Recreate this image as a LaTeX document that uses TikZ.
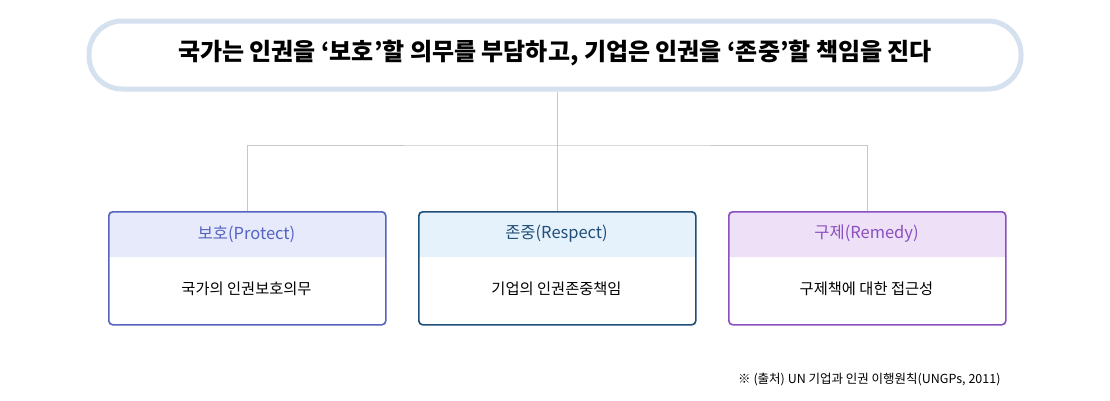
\documentclass[tikz,border=0pt]{standalone}
\usepackage{fontspec}
\setmainfont{Noto Sans CJK KR}
\begin{document}
\begin{tikzpicture}[x=1pt,y=-1pt,
  bx/.style={draw=#1,line width=1.6pt,rounded corners=4pt,minimum width=277pt,minimum height=113pt,anchor=north west,inner sep=0pt},
  ln/.style={draw=black!22,line width=0.7pt}]
\definecolor{c1}{HTML}{5563C1}\definecolor{f1}{HTML}{E7EAFB}
\definecolor{c2}{HTML}{1F4E79}\definecolor{f2}{HTML}{E6F2FB}
\definecolor{c3}{HTML}{8A4FC1}\definecolor{f3}{HTML}{EEE0F6}
\useasboundingbox[fill=white] (0,0) rectangle (1110,400);
\node[draw={rgb,255:red,213;green,225;blue,239},line width=5pt,rounded corners=33pt,minimum width=932pt,minimum height=68pt] (top) at (555,55) {};
\node at (555,53) {\fontsize{24pt}{28pt}\selectfont\bfseries 국가는 인권을 ‘보호’할 의무를 부담하고, 기업은 인권을 ‘존중’할 책임을 진다};
\foreach \i/\x/\h/\b in {1/108/보호(Protect)/국가의 인권보호의무, 2/418/존중(Respect)/기업의 인권존중책임, 3/728/구제(Remedy)/구제책에 대한 접근성}{
  \fill[f\i,rounded corners=4pt] (\x,211) rectangle (\x+277,257);
  \fill[f\i] (\x,240) rectangle (\x+277,257);
  \node[bx=c\i] (b\i) at (\x,211) {};
  \node[text=c\i] at (\x+138.5,234) {\fontsize{16.5pt}{19pt}\selectfont 
\h};
  \node at (\x+138.5,289) {\fontsize{15.3pt}{18pt}\selectfont \b};
}
\coordinate (j) at (557,145);
\draw[ln] (top.south -| j) -- (j);
\draw[ln] (b1.north) |- (j) -| (b3.north);
\draw[ln] (j) -- (b2.north -| j);
\node[anchor=east] (fn) at (1004,380) {\fontsize{12.5pt}{15pt}\selectfont ※ (출처) UN 기업과 인권 이행원칙(UNGPs, 2011)};
\end{tikzpicture}
\end{document}
